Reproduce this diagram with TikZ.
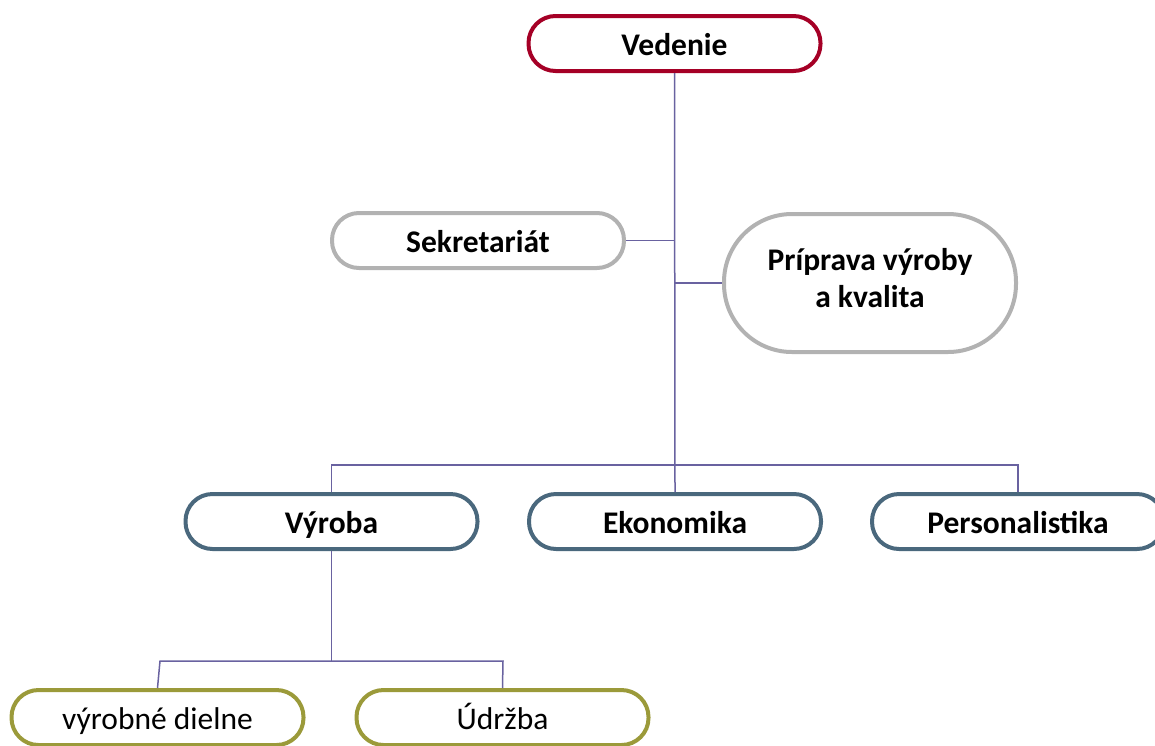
\documentclass[tikz,border=0pt]{standalone}
\usepackage{fontspec}
\setmainfont{Carlito}
\definecolor{crim}{RGB}{165,0,38}
\definecolor{greyb}{RGB}{178,178,178}
\definecolor{slate}{RGB}{74,104,125}
\definecolor{olive}{RGB}{155,154,58}
\definecolor{conn}{RGB}{105,98,160}
\tikzset{
  box/.style={draw, line width=4pt, fill=white, rounded corners=27pt,
    minimum width=292pt, minimum height=55pt, inner sep=0pt, align=center,
    font=\fontsize{31.5}{37}\selectfont\bfseries},
  one/.style={text height=28pt, text depth=4pt},
  lvl0/.style={box, one, draw=crim},
  lvl1/.style={box, draw=greyb},
  lvl2/.style={box, one, draw=slate},
  lvl3/.style={box, one, draw=olive, font=\fontsize{31.5}{37}\selectfont},
  link/.style={draw=conn, line width=1.5pt}
}
\begin{document}
\begin{tikzpicture}[x=1pt,y=-1pt]
\useasboundingbox (0,0) rectangle (1155,745);
\coordinate (bus1l) at (331.5,465);
\coordinate (bus1r) at (1018,465);
\coordinate (sekj) at (674.5,240.5);
\coordinate (prij) at (674.5,283);
\coordinate (bus2) at (331.5,661);
\coordinate (bus2l) at (160,661);
\coordinate (bus2r) at (503,661);

\node[lvl0] (ved) at (674.5,43.5) {Vedenie};
\node[lvl1, one] (sek) at (478,240.5) {Sekretariát};
\node[lvl1, minimum height=138pt, rounded corners=68pt, text depth=10pt] (pri) at (870,283) {Príprava výroby\\a kvalita};
\node[lvl2] (vyr) at (331.5,521.5) {Výroba};
\node[lvl2] (eko) at (675,521.5) {Ekonomika};
\node[lvl2] (per) at (1018,521.5) {Personalistika};
\node[lvl3] (die) at (157.5,717.5) {výrobné dielne};
\node[lvl3] (udr) at (502.5,717.5) {Údržba};

\draw[link] (ved.south) -- (eko.north);
\draw[link] (sek.east) -- (sekj);
\draw[link] (prij) -- (pri.west);
\draw[link] (vyr.north) -- (bus1l) -- (bus1r) -- (per.north);
\draw[link] (vyr.south) -- (bus2);
\draw[link] (die.north) -- (bus2l) -- (bus2r) -- (udr.north);
\end{tikzpicture}
\end{document}
